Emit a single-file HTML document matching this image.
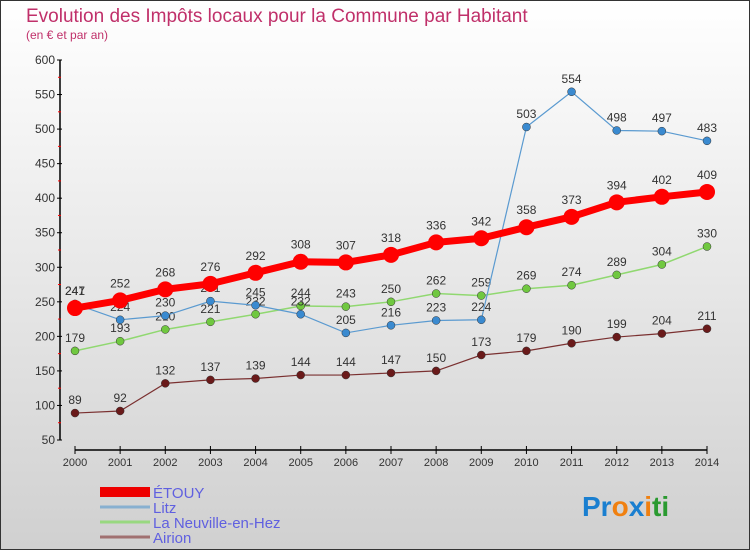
<!DOCTYPE html>
<html><head><meta charset="utf-8"><style>
body{margin:0}
#c{width:750px;height:550px;position:relative;box-sizing:border-box;border:1px solid #333;background:linear-gradient(#fff,#d0d0d0);font-family:"Liberation Sans",sans-serif;overflow:hidden}
</style></head><body>
<div id="c">
<svg id="s" width="750" height="550" style="position:absolute;left:-1px;top:-1px">
<text x="26" y="22" font-size="19" fill="#c0306a">Evolution des Impôts locaux pour la Commune par Habitant</text>
<text x="26" y="39" font-size="12" fill="#c0306a">(en € et par an)</text>
<g id="axes"></g><g id="series"></g><g id="legend"></g>
<text x="582" y="516" font-size="28" font-weight="bold"><tspan fill="#1a7fd0">Pr</tspan><tspan fill="#f08010">o</tspan><tspan fill="#1a7fd0">x</tspan><tspan fill="#f08010">i</tspan><tspan fill="#2a9a30">ti</tspan></text>
</svg></div>
<script>
const years=[2000,2001,2002,2003,2004,2005,2006,2007,2008,2009,2010,2011,2012,2013,2014];
const yTicks=[50,100,150,200,250,300,350,400,450,500,550,600];
const etouy=[241,252,268,276,292,308,307,318,336,342,358,373,394,402,409];
const litz=[247,224,230,251,245,232,205,216,223,224,503,554,498,497,483];
const neuville=[179,193,210,221,232,244,243,250,262,259,269,274,289,304,330];
const airion=[89,92,132,137,139,144,144,147,150,173,179,190,199,204,211];
const NS='http://www.w3.org/2000/svg';
const X=i=>75+i*(707-75)/(years.length-1);
const Y=v=>440-(v-50)*380/550;
function mk(p,t,a){const e=document.createElementNS(NS,t);for(const k in a)e.setAttribute(k,a[k]);p.appendChild(e);return e;}
const ax=document.getElementById('axes');
let e=mk(ax,'line',{x1:60,y1:60,x2:60,y2:440,stroke:'#000','stroke-width':1.5});

e=mk(ax,'line',{x1:75,y1:450,x2:707,y2:450,stroke:'#000','stroke-width':1.5});

yTicks.forEach(v=>{
 mk(ax,'line',{x1:57,x2:62,y1:Y(v),y2:Y(v),stroke:'#000'});
 if(v<600) mk(ax,'line',{x1:58,x2:61,y1:Y(v+25),y2:Y(v+25),stroke:'#f00'});
 const t=mk(ax,'text',{x:55,y:Y(v)+4,'text-anchor':'end','font-size':12,fill:'#333'});t.textContent=v;
 
});
years.forEach((y,i)=>{
 mk(ax,'line',{x1:X(i),x2:X(i),y1:446,y2:454,stroke:'#000'});
 const t=mk(ax,'text',{x:X(i),y:466,'text-anchor':'middle','font-size':11,fill:'#333'});t.textContent=y;
 
});
const sg=document.getElementById('series');
function series(name,data,color,lw,r,fill){
 const g=mk(sg,'g',{});
 
 const l=mk(g,'polyline',{points:data.map((v,i)=>X(i)+','+Y(v)).join(' '),fill:'none',stroke:color,'stroke-width':lw});
 
 data.forEach((v,i)=>{
  const c=mk(g,'circle',{cx:X(i),cy:Y(v),r:r,fill:fill,stroke:'#333','stroke-width':r>5?0:0.5});
  
  const t=mk(g,'text',{x:X(i),y:Y(v)-r-5,'text-anchor':'middle','font-size':12,fill:'#333'});t.textContent=v;
  
 });
}
series('airion',airion,'#7a3030',1.2,4,'#6a1a1a');
series('neuville',neuville,'#90d870',1.5,4,'#70c840');
series('litz',litz,'#5a9ad0',1.2,4,'#3a8ad0');
series('etouy',etouy,'#f00',7,8,'#f00');
const lg=document.getElementById('legend');
[['ÉTOUY','#e00',10],['Litz','#88b0d0',3],['La Neuville-en-Hez','#98d880',3],['Airion','#a07070',3]].forEach((d,i)=>{
 const y=492+i*15;
 const l=mk(lg,'line',{x1:100,x2:150,y1:y,y2:y,stroke:d[1],'stroke-width':d[2]});
 
 const t=mk(lg,'text',{x:153,y:y+6,'font-size':15,fill:'#6060e0'});t.textContent=d[0];
 
});
</script>
</body></html>
